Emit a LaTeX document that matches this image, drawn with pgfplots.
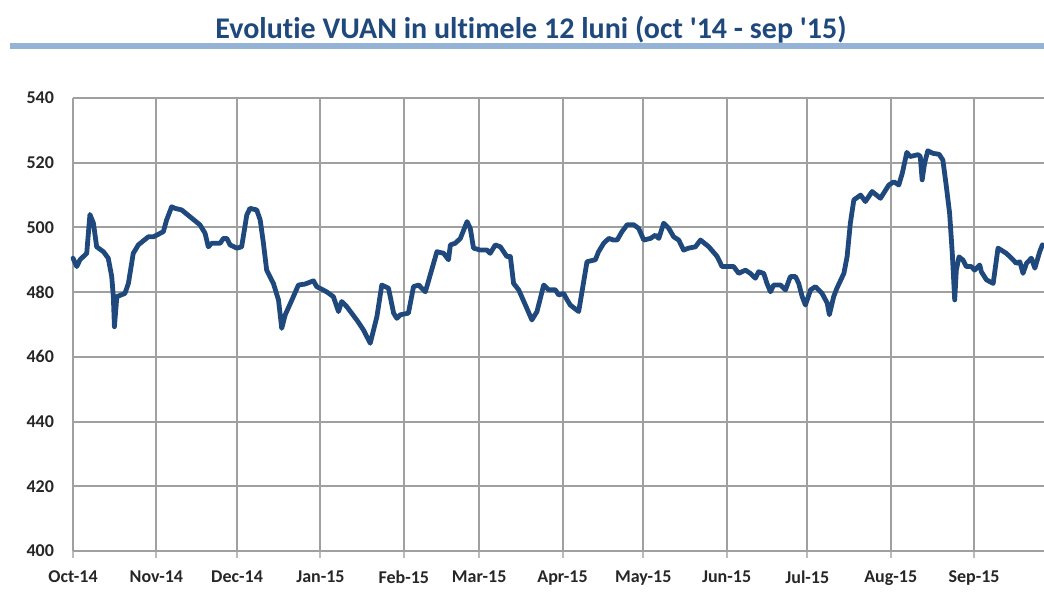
\documentclass[border=0pt]{standalone}
\usepackage{pgfplots}
\pgfplotsset{compat=1.18}
\usepackage{fontspec}
\setmainfont{Carlito}[RawFeature=-liga]
\definecolor{titleblue}{RGB}{31,73,125}
\definecolor{lineblue}{RGB}{31,73,125}
\definecolor{rulelb}{RGB}{149,179,215}
\definecolor{gridgray}{RGB}{160,160,160}
\begin{document}
\begin{tikzpicture}
\path[use as bounding box] (0,0) rectangle (522pt,304pt);
\node[font=\fontsize{15}{17}\selectfont\bfseries, text=titleblue] at (265.5pt,289pt) {Evolutie VUAN in ultimele 12 luni (oct \textquotesingle 14 - sep \textquotesingle 15)};
\draw[rulelb, line width=2.75pt] (5pt,281pt) -- (522pt,281pt);
\begin{axis}[
  at={(36.5pt,28.5pt)}, anchor=south west,
  width=485.5pt, height=226.5pt, scale only axis,
  xmin=0, xmax=361, ymin=400, ymax=540,
  ytick={400,420,...,540},
  xtick={0,31,61,92,123,151,182,212,243,273,304,335},
  xticklabels={Oct-14,Nov-14,Dec-14,Jan-15,Feb-15,Mar-15,Apr-15,May-15,Jun-15,Jul-15,Aug-15,Sep-15},
  axis x line*=bottom, axis y line*=left,
  axis line style={gridgray, line width=1pt},
  grid=major, grid style={gridgray, line width=1pt},
  tick align=outside, major tick length=3.5pt,
  xtick style={gridgray!70, line width=1pt},
  ytick style={draw=none},
  /pgf/number format/assume math mode=true,
  ticklabel style={font=\fontsize{9}{10}\selectfont\bfseries, text=black!85},
  yticklabel style={xshift=-2.5pt},
  xticklabel style={yshift=-3pt},
  clip=false,
]
\addplot[lineblue, line width=2.4pt, line join=round, line cap=round] coordinates {
(0,490.5) (1.4,487.9) (2.6,490) (5.1,492) (6.3,504) (7.6,501.3) (8.8,494) (11.3,492.5) (13.1,490.5) (14.4,484.8) (15,478.6) (15.4,469.3) (16.3,478.6) (19.3,479.6) (20.6,482.7) (22.4,492) (24.3,494.6) (28,497.1) (29.9,497.1) (31.1,497.6) (33.6,498.7) (34.8,502.3) (36.7,506.4) (37.9,505.9) (40.4,505.4) (43.5,503.3) (47.2,500.8) (49.1,498.2) (50.3,494) (51.6,495.1) (54.7,495.1) (55.9,496.6) (57.2,496.6) (58.4,494.6) (60.9,493.6) (62.7,494) (64.6,503.8) (65.8,505.9) (68.3,505.4) (69.6,502.3) (70.8,495.1) (72.0,486.8) (74.5,482.7) (76.4,477.6) (77.6,468.8) (78.9,473) (81.4,477.6) (83.8,482.2) (86.3,482.5) (89.4,483.5) (90.6,481.7) (94.3,480.1) (96.8,478.6) (98.7,474) (99.9,477.1) (101.8,475.5) (105.5,471.4) (108,468.3) (110.5,464.2) (113,472.5) (114.8,482.2) (117.3,481.2) (119.2,473.5) (120.4,471.9) (121.7,473) (124.7,473.5) (126.6,481.7) (128.5,482.2) (131,480.1) (132.8,485.3) (135.3,492.5) (137.8,492) (139.6,490) (140.3,494.6) (142.1,495.1) (144,496.6) (146.5,501.8) (147.7,499.7) (148.9,493.6) (151.4,493) (153.9,493) (155.1,492) (157,494.6) (158.9,494) (161.3,491) (162.6,491) (163.8,482.7) (165.7,480.7) (168.2,476) (170.6,471.4) (172.5,474) (175,482.2) (176.8,480.7) (179.3,480.7) (180.6,479.1) (182.4,479.6) (183.7,477.6) (184.9,476) (188,474) (191.1,489.4) (194.2,490) (195.4,492.5) (197.3,495.1) (199.2,496.6) (201,496.1) (202.3,496.1) (204.1,498.7) (206,500.8) (208.5,500.8) (210.3,499.7) (212.2,496.1) (214.7,496.6) (216.5,497.6) (217.8,496.6) (219.6,501.3) (221.5,499.7) (223.3,497.1) (225.2,496.1) (227,493) (228.9,493.6) (231.4,494) (233.3,496.1) (236.4,494) (239.5,491) (241.3,487.9) (245.6,487.9) (247.5,485.8) (250,486.8) (251.8,485.8) (253.7,484.3) (254.9,486.3) (256.8,485.8) (258,482.7) (259.3,480.1) (260.5,482.2) (263,482.2) (264.9,480.7) (266.7,484.8) (268.6,484.8) (269.8,482.7) (271.1,478.6) (272.3,476) (274.2,480.7) (276,481.7) (278.5,479.6) (280.4,476.6) (281.2,473) (282.8,478.6) (284,481.2) (286.6,485.8) (287.8,491) (289,501.3) (290.3,508.5) (292.8,510) (294.6,508) (297.1,511.1) (300.2,509) (303.3,513.1) (305.2,514.1) (307,513.1) (308.3,516.7) (310,523.2) (311.2,521.9) (314.2,522.5) (315,521.9) (315.7,514.7) (316.6,519.8) (317.8,523.7) (319.7,522.9) (322,522.6) (323.4,520.8) (324.7,512.6) (325.9,504.4) (326.9,492) (327.8,477.6) (328.4,486.8) (329.4,490.9) (330.9,489.9) (332.1,487.9) (334,487.9) (335.2,486.8) (337.1,488.4) (337.7,486.3) (339.6,483.8) (342.1,482.7) (343.9,493.6) (347,492) (349.5,490) (350.7,488.9) (352,489.4) (353.2,485.8) (354.5,488.9) (356.3,490.5) (357.6,487.4) (359.4,492.5) (360.4,494.6)
};
\end{axis}
\end{tikzpicture}
\end{document}
